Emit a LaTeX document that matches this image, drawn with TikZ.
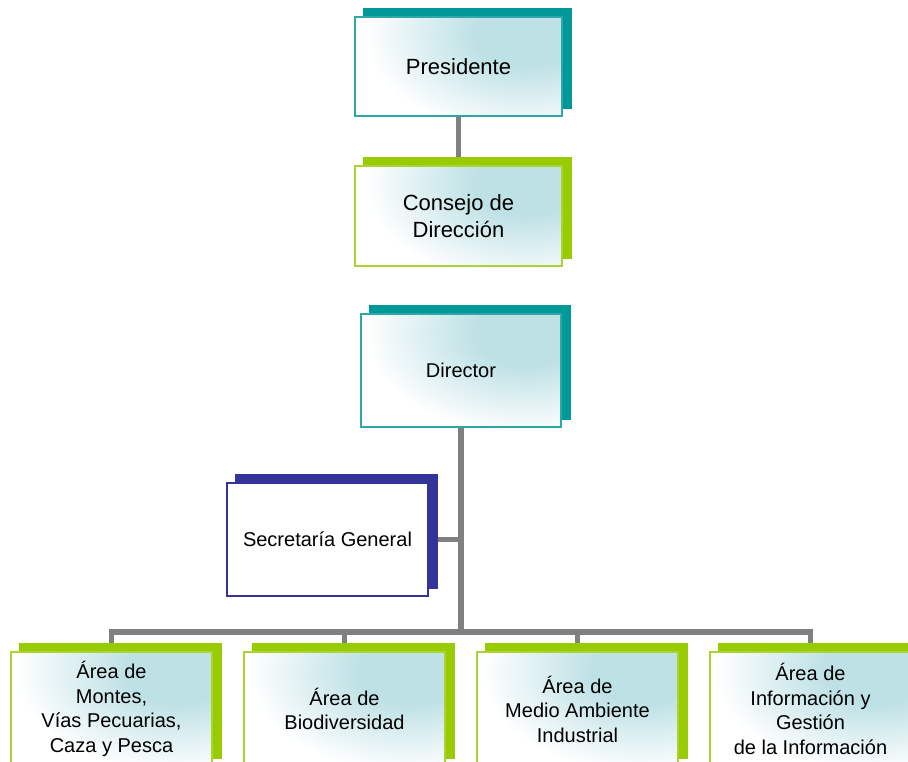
\documentclass[tikz,border=0pt]{standalone}
\usepackage{fontspec}
\setmainfont{Liberation Sans}
\usetikzlibrary{calc}
\definecolor{tealshadow}{RGB}{0,153,153}
\definecolor{tealline}{RGB}{45,168,168}
\definecolor{greenshadow}{RGB}{153,204,0}
\definecolor{greenline}{RGB}{170,212,50}
\definecolor{navy}{RGB}{51,51,153}
\definecolor{boxblue}{RGB}{190,225,229}
\definecolor{connector}{RGB}{128,128,128}
\pgfdeclarelayer{lines}
\pgfdeclarelayer{shadowlayer}
\pgfdeclarelayer{filllayer}
\pgfsetlayers{lines,shadowlayer,filllayer,main}
\pgfdeclareradialshading{glow}{\pgfpointorigin}{color(0bp)=(boxblue); color(8bp)=(boxblue); color(25bp)=(white); color(50bp)=(white)}
\newcommand{\boxshadow}[2]{%
  \begin{pgfonlayer}{shadowlayer}
    \fill[#2] ([shift={(9pt,8pt)}]#1.south west) rectangle ([shift={(9pt,8pt)}]#1.north east);
  \end{pgfonlayer}}
\newcommand{\boxglow}[1]{%
  \begin{pgfonlayer}{filllayer}
    \begin{scope}
      \clip (#1.south west) rectangle (#1.north east);
      \fill[white] (#1.south west) rectangle (#1.north east);
      \shade[shading=glow] ($(#1.north east)!0.18!(#1.south west)$) ellipse [x radius=160pt, y radius=100pt];
    \end{scope}
  \end{pgfonlayer}}
\newcommand{\boxwhite}[1]{%
  \begin{pgfonlayer}{filllayer}
    \fill[white] (#1.south west) rectangle (#1.north east);
  \end{pgfonlayer}}
\tikzset{
  orgbox/.style={line width=1.6pt, align=center, inner sep=0pt, text=black},
  bigtext/.style={orgbox, font=\fontsize{22}{26.7}\selectfont},
  smalltext/.style={orgbox, font=\fontsize{20}{24.5}\selectfont},
  conn/.style={draw=connector, line width=5.5pt, line join=miter}
}
\begin{document}
\begin{tikzpicture}[x=1pt, y=-1pt]
\useasboundingbox (0,0) rectangle (908,762);
% nodes
\node[bigtext, draw=tealline, minimum width=207pt, minimum height=99pt] (pres) at (458.5,66.5) {Presidente};
\node[bigtext, draw=greenline, minimum width=207pt, minimum height=100pt] (cons) at (458.5,216) {Consejo de\\Direcci\'on};
\node[smalltext, draw=tealline, minimum width=200pt, minimum height=113pt] (dir) at (461,370.5) {Director};
\node[smalltext, draw=navy, minimum width=201pt, minimum height=113pt] (sec) at (327.5,539.5) {Secretar\'ia General};
\node[smalltext, draw=greenline, minimum width=201pt, minimum height=114pt] (b1) at (111.5,709) {\'Area de\\Montes,\\V\'ias Pecuarias,\\Caza y Pesca};
\node[smalltext, draw=greenline, minimum width=201pt, minimum height=114pt] (b2) at (344.5,709) {\'Area de\\Biodiversidad};
\node[smalltext, draw=greenline, minimum width=201pt, minimum height=114pt] (b3) at (577.5,709) {\'Area de\\Medio Ambiente\\Industrial};
\node[smalltext, draw=greenline, minimum width=201pt, minimum height=114pt] (b4) at (810.5,709) {\'Area de\\Informaci\'on y\\Gesti\'on\\de la Informaci\'on};
\coordinate (bar) at (461,632);
% shadows and fills
\boxshadow{pres}{tealshadow}\boxglow{pres}
\boxshadow{cons}{greenshadow}\boxglow{cons}
\boxshadow{dir}{tealshadow}\boxglow{dir}
\boxshadow{sec}{navy}\boxwhite{sec}
\boxshadow{b1}{greenshadow}\boxglow{b1}
\boxshadow{b2}{greenshadow}\boxglow{b2}
\boxshadow{b3}{greenshadow}\boxglow{b3}
\boxshadow{b4}{greenshadow}\boxglow{b4}
% connectors
\begin{pgfonlayer}{lines}
\draw[conn] (pres.south) -- (cons.north);
\draw[conn] (dir.south) -- (bar);
\draw[conn] (sec.east) -- (sec.east -| bar);
\draw[conn] (b1.north) |- (bar) -| (b4.north);
\draw[conn] (b2.north) -- (b2.north |- bar);
\draw[conn] (b3.north) -- (b3.north |- bar);
\end{pgfonlayer}
\end{tikzpicture}
\end{document}
